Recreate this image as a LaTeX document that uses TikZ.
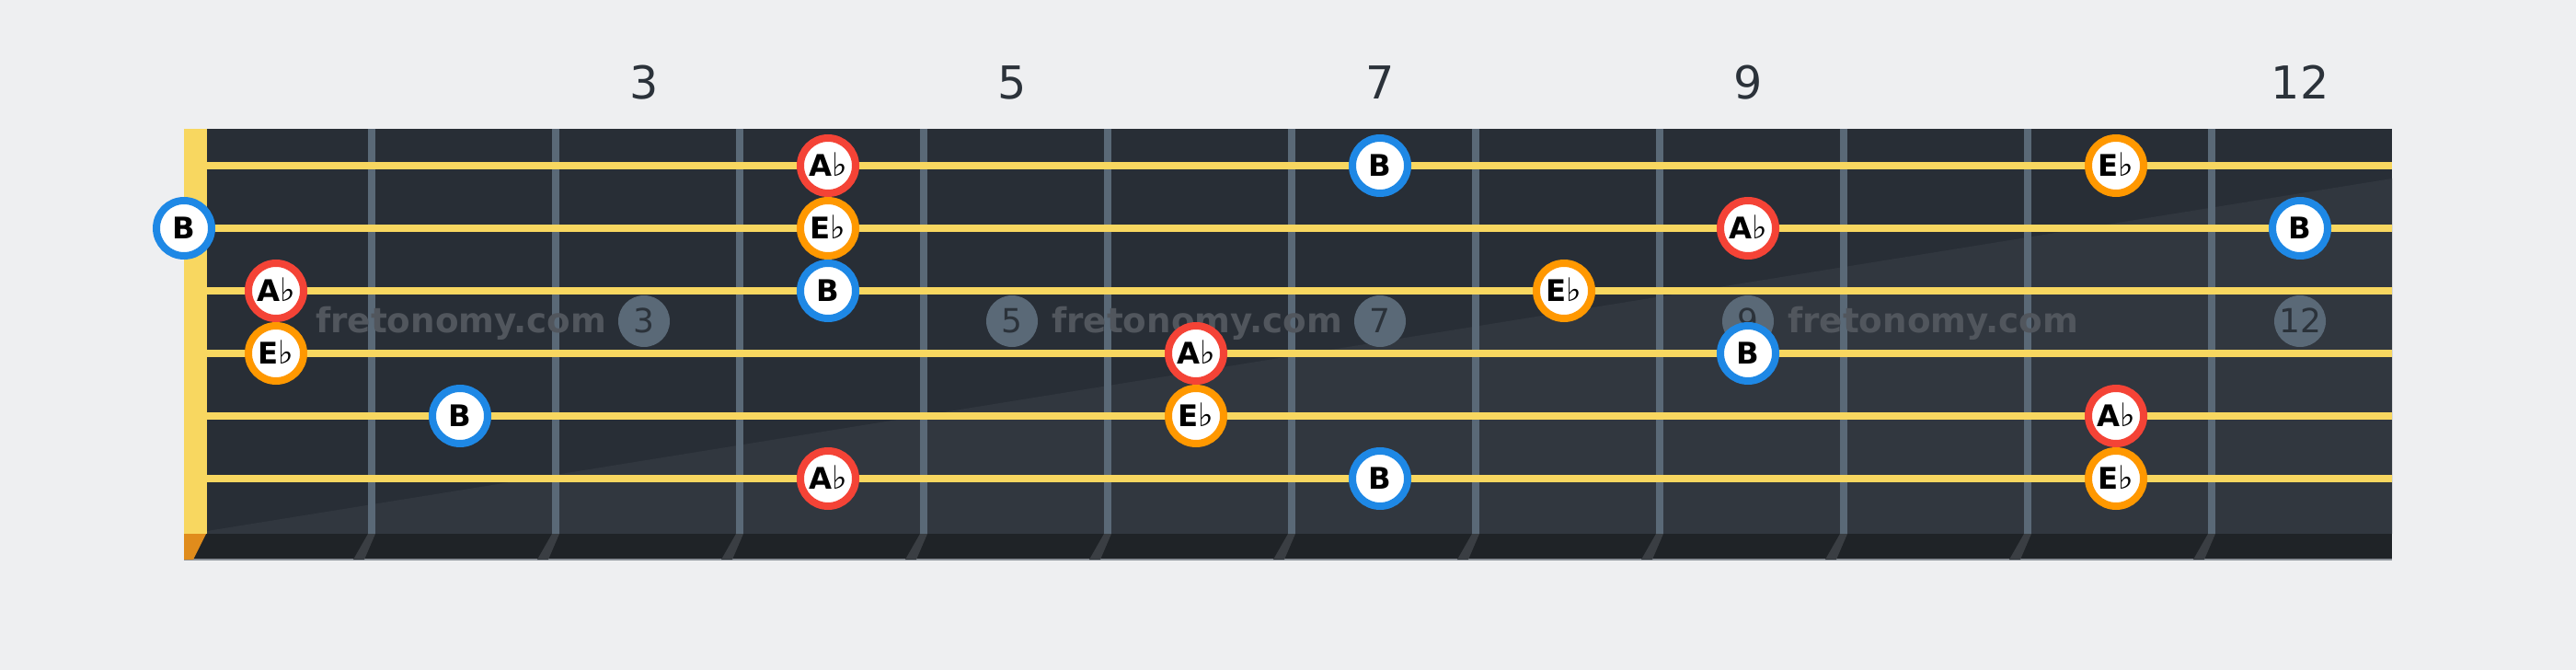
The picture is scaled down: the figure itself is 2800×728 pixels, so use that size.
\documentclass[tikz,border=0pt]{standalone}
\usepackage{fontspec}
\setmainfont{DejaVu Sans}
\definecolor{bgc}{HTML}{EEEFF1}
\definecolor{boardc}{HTML}{282E36}
\definecolor{boardlt}{HTML}{31373F}
\definecolor{stripc}{HTML}{1F2327}
\definecolor{fretc}{HTML}{5A6977}
\definecolor{stringc}{HTML}{F8D760}
\definecolor{nutor}{HTML}{E08C1C}
\definecolor{shadowc}{HTML}{3A3E43}
\definecolor{wmc}{HTML}{51565D}
\definecolor{numc}{HTML}{2B323A}
\definecolor{edgec}{HTML}{8A9097}
\definecolor{bluec}{HTML}{1E88E5}
\definecolor{redc}{HTML}{F44336}
\definecolor{orangec}{HTML}{FF9800}
\newcommand{\fl}{{\mdseries\fontsize{25}{25}\selectfont ♭}}
\begin{document}
\begin{tikzpicture}[x=0.25mm,y=-0.25mm,
  note/.style={circle,draw=#1,line width=2mm,fill=white,minimum size=15mm,inner sep=0pt,
    text height=5.8mm,text depth=0pt,text=black,font=\fontsize{23}{23}\selectfont\bfseries},
  inlay/.style={circle,fill=fretc,minimum size=14mm,inner sep=0pt,text=numc,
    text height=6.5mm,text depth=0pt,font=\fontsize{25.6}{25.6}\selectfont},
  toplabel/.style={inner sep=0pt,text=numc,text height=9mm,text depth=0pt,
    font=\fontsize{35}{35}\selectfont},
  wmark/.style={inner sep=0pt,anchor=base west,text=wmc,font=\fontsize{26.5}{26.5}\selectfont\bfseries},
  stringline/.style={stringc,line width=2mm},
]
\useasboundingbox (0,0) rectangle (2800,728);
\fill[bgc] (0,0) rectangle (2800,728);
% board
\fill[boardc] (225,140) rectangle (2600,580);
\fill[boardlt] (225,577) -- (2600,194) -- (2600,580) -- (225,580) -- cycle;
\fill[stripc] (200,580) rectangle (2600,608);
\draw[edgec,line width=0.5mm] (200,608) -- (2600,608);
% nut
\fill[stringc] (200,140) rectangle (225,580);
\fill[nutor] (200,580) -- (224,580) -- (210,608) -- (200,608) -- cycle;
% frets
\foreach \k in {1,...,11}{
  \fill[fretc] ({200*\k+200},140) rectangle ({200*\k+208},580);
  \fill[shadowc] ({200*\k+200},580) -- ({200*\k+208},580) -- ({200*\k+196},608) -- ({200*\k+184},608) -- cycle;
}
% watermarks
\node[wmark] (wm1) at (343,362) {fretonomy.com};
\node[wmark] (wm2) at (1143,362) {fretonomy.com};
\node[wmark] (wm3) at (1943,362) {fretonomy.com};
% inlays
\node[inlay] (in3) at (700,349) {3};
\node[inlay] (in5) at (1100,349) {5};
\node[inlay] (in7) at (1500,349) {7};
\node[inlay] (in9) at (1900,349) {9};
\node[inlay] (in12) at (2500,349) {12};
% top fret numbers
\node[toplabel] (t3) at (700,89.5) {3};
\node[toplabel] (t5) at (1100,89.5) {5};
\node[toplabel] (t7) at (1500,89.5) {7};
\node[toplabel] (t9) at (1900,89.5) {9};
\node[toplabel] (t12) at (2500,89.5) {12};
% strings
\foreach \y in {180,248,316,384,452,520}{
  \draw[stringline] (225,\y) -- (2600,\y);
}
% notes string 1
\node[note=redc] (s1a) at (900,180) {A\fl};
\node[note=bluec] (s1b) at (1500,180) {B};
\node[note=orangec] (s1c) at (2300,180) {E\fl};
% string 2
\node[note=bluec] (s2a) at (200,248) {B};
\node[note=orangec] (s2b) at (900,248) {E\fl};
\node[note=redc] (s2c) at (1900,248) {A\fl};
\node[note=bluec] (s2d) at (2500,248) {B};
% string 3
\node[note=redc] (s3a) at (300,316) {A\fl};
\node[note=bluec] (s3b) at (900,316) {B};
\node[note=orangec] (s3c) at (1700,316) {E\fl};
% string 4
\node[note=orangec] (s4a) at (300,384) {E\fl};
\node[note=redc] (s4b) at (1300,384) {A\fl};
\node[note=bluec] (s4c) at (1900,384) {B};
% string 5
\node[note=bluec] (s5a) at (500,452) {B};
\node[note=orangec] (s5b) at (1300,452) {E\fl};
\node[note=redc] (s5c) at (2300,452) {A\fl};
% string 6
\node[note=redc] (s6a) at (900,520) {A\fl};
\node[note=bluec] (s6b) at (1500,520) {B};
\node[note=orangec] (s6c) at (2300,520) {E\fl};
\end{tikzpicture}
\end{document}
